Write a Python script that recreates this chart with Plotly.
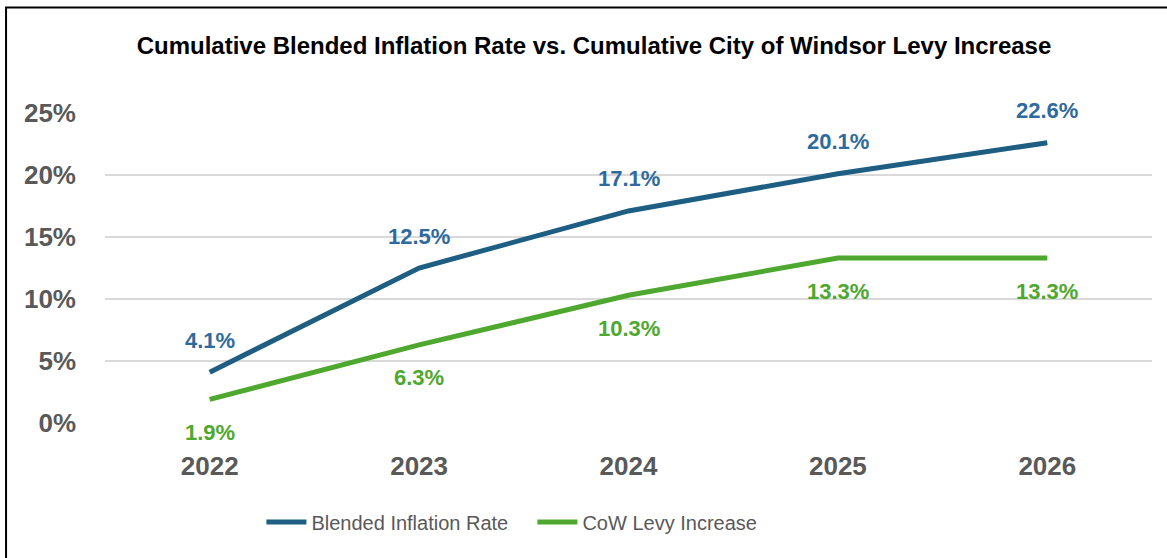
import plotly.graph_objects as go

years = ["2022", "2023", "2024", "2025", "2026"]
blended = [4.1, 12.5, 17.1, 20.1, 22.6]
levy = [1.9, 6.3, 10.3, 13.3, 13.3]
y_ticks = [0, 5, 10, 15, 20, 25]

BLUE_LINE = "#1D5E82"
BLUE_TEXT = "#2F6A9E"
GREEN = "#4EA72E"
GRAY = "#595959"
FONT = "Liberation Sans, Arial, sans-serif"

fig = go.Figure()
fig.add_trace(go.Scatter(x=years, y=blended, mode="lines", name="Blended Inflation Rate",
                         line=dict(color=BLUE_LINE, width=5)))
fig.add_trace(go.Scatter(x=years, y=levy, mode="lines", name="CoW Levy Increase",
                         line=dict(color=GREEN, width=5)))

for i, v in enumerate(blended):
    fig.add_annotation(x=i, y=v, xref="x", yref="y", text=f"{v:.1f}%", showarrow=False, yshift=32,
                       font=dict(family=FONT, size=22, color=BLUE_TEXT, weight="bold"))
for i, v in enumerate(levy):
    fig.add_annotation(x=i, y=v, xref="x", yref="y", text=f"{v:.1f}%", showarrow=False, yshift=-33,
                       font=dict(family=FONT, size=22, color=GREEN, weight="bold"))

W, H = 1167, 558
L, R, T, B = 104.5, 15, 113, 135
pw, ph = W - L - R, H - T - B

# outer frame
fig.add_shape(type="rect", xref="paper", yref="paper",
              x0=(5.5 - L) / pw, x1=1.1, y0=-0.6, y1=(H - B - 7.5) / ph,
              line=dict(color="black", width=2), fillcolor="rgba(0,0,0,0)", layer="below")

fig.update_layout(
    width=W, height=H,
    margin=dict(l=L, r=R, t=T, b=B),
    paper_bgcolor="white", plot_bgcolor="white",
    title=dict(text="Cumulative Blended Inflation Rate vs. Cumulative City of Windsor Levy Increase",
               x=594 / W, xanchor="center", y=1 - 46 / H, yanchor="middle",
               font=dict(family=FONT, size=24, color="black", weight="bold")),
    xaxis=dict(type="category", range=[-0.5, 4.5], showgrid=False, zeroline=False,
               showline=False, ticks="", ticklabelstandoff=25,
               tickfont=dict(family=FONT, size=26, color=GRAY, weight="bold")),
    yaxis=dict(range=[0, 25], tickvals=y_ticks, ticktext=[f"{t}%" for t in y_ticks],
               showgrid=True, gridcolor="#D9D9D9", gridwidth=2, zeroline=False,
               showline=False, ticks="", ticklabelstandoff=28,
               tickfont=dict(family=FONT, size=26, color=GRAY, weight="bold")),
    showlegend=True,
    legend=dict(orientation="h", x=(261 - L) / pw, xanchor="left",
                y=(H - B - 522) / ph, yanchor="middle", itemwidth=40,
                entrywidth=216, entrywidthmode="pixels",
                font=dict(family=FONT, size=20, color=GRAY), bgcolor="rgba(0,0,0,0)"),
)

fig.write_html("out.html", config={"displayModeBar": False},
               post_script="document.body.style.margin='0';")
